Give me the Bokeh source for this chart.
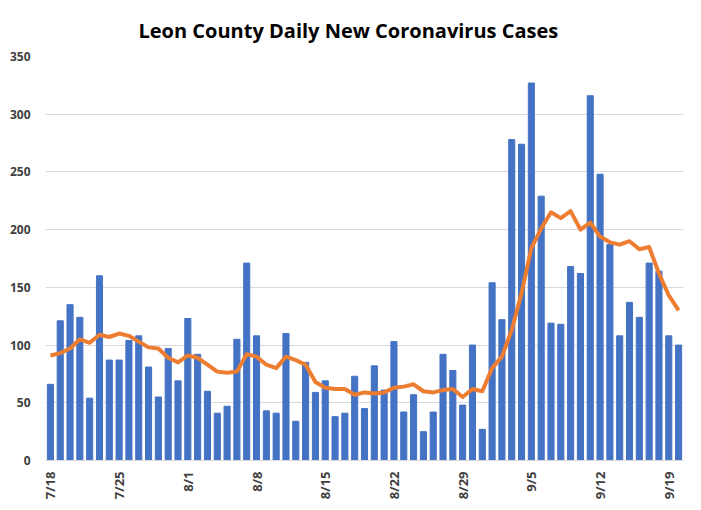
import math
import pandas as pd
from bokeh.plotting import figure
from bokeh.models import ColumnDataSource, FixedTicker, Range1d, Title
from bokeh.embed import file_html
from bokeh.resources import INLINE

dates = [f"{d.month}/{d.day}" for d in pd.date_range("2020-07-18", "2020-09-20")]
cases = [66, 121, 135, 124, 54, 160, 87, 87, 104, 108,
         81, 55, 97, 69, 123, 92, 60, 41, 47, 105,
         171, 108, 43, 41, 110, 34, 85, 59, 69, 38,
         41, 73, 45, 82, 61, 103, 42, 57, 25, 42,
         92, 78, 48, 100, 27, 154, 122, 278, 274, 327,
         229, 119, 118, 168, 162, 316, 248, 187, 108, 137,
         124, 171, 164, 108, 100]
avg7 = [91, 93, 97, 105, 102, 109, 107, 110, 108, 103,
        98, 97, 89, 85, 91, 89, 83, 77, 76, 77,
        92, 90, 83, 80, 90, 87, 83, 68, 63, 62,
        62, 57, 59, 58, 59, 63, 64, 66, 60, 59,
        61, 62, 55, 62, 60, 80, 90, 113, 145, 184,
        201, 215, 210, 216, 200, 206, 194, 189, 187, 190,
        183, 185, 162, 143, 130]
tick_labels = ["7/18", "7/25", "8/1", "8/8", "8/15", "8/22", "8/29", "9/5", "9/12", "9/19"]

xs = list(range(1, len(cases) + 1))
src = ColumnDataSource(dict(x=xs, cases=cases, avg=avg7, date=dates))

W, H = 693, 502
p = figure(width=W, height=H, output_backend="svg", toolbar_location=None,
           x_range=Range1d(0.5, len(cases) + 0.5), y_range=Range1d(0, 350),
           min_border_left=45, min_border_right=10, min_border_top=56, min_border_bottom=38)
p.title = Title(text="Leon County Daily New Coronavirus Cases", align="left",
                text_font="Open Sans", text_font_size="20px", text_font_style="bold",
                text_color="#000000", offset=93, standoff=26)

p.vbar(x="x", top="cases", width=0.62, color="#4472C4", source=src)
p.line(x="x", y="avg", line_color="#ED7D31", line_width=4, line_join="round", source=src)

tick_pos = [xs[dates.index(t)] for t in tick_labels]
p.xaxis.ticker = FixedTicker(ticks=tick_pos)
p.xaxis.major_label_overrides = {x: t for x, t in zip(tick_pos, tick_labels)}
p.xaxis.major_label_orientation = math.pi / 2
p.xaxis.axis_line_color = "#d9d9d9"
p.xaxis.major_tick_line_color = None
p.xaxis.minor_tick_line_color = None
p.xaxis.major_label_text_font = "Open Sans"
p.xaxis.major_label_text_font_size = "13px"
p.xaxis.major_label_text_font_style = "bold"
p.xaxis.major_label_text_color = "#404040"
p.xaxis.major_label_standoff = 5

p.yaxis.ticker = FixedTicker(ticks=[0, 50, 100, 150, 200, 250, 300, 350])
p.yaxis.axis_line_color = None
p.yaxis.major_tick_line_color = None
p.yaxis.minor_tick_line_color = None
p.yaxis.major_label_text_font = "Open Sans"
p.yaxis.major_label_text_font_size = "12px"
p.yaxis.major_label_text_font_style = "bold"
p.yaxis.major_label_text_color = "#404040"
p.yaxis.major_label_standoff = 9

p.xgrid.grid_line_color = None
p.ygrid.grid_line_color = "#d9d9d9"
p.outline_line_color = None
p.background_fill_color = "white"
p.border_fill_color = "white"

open("out.html", "w").write(file_html(p, INLINE))
